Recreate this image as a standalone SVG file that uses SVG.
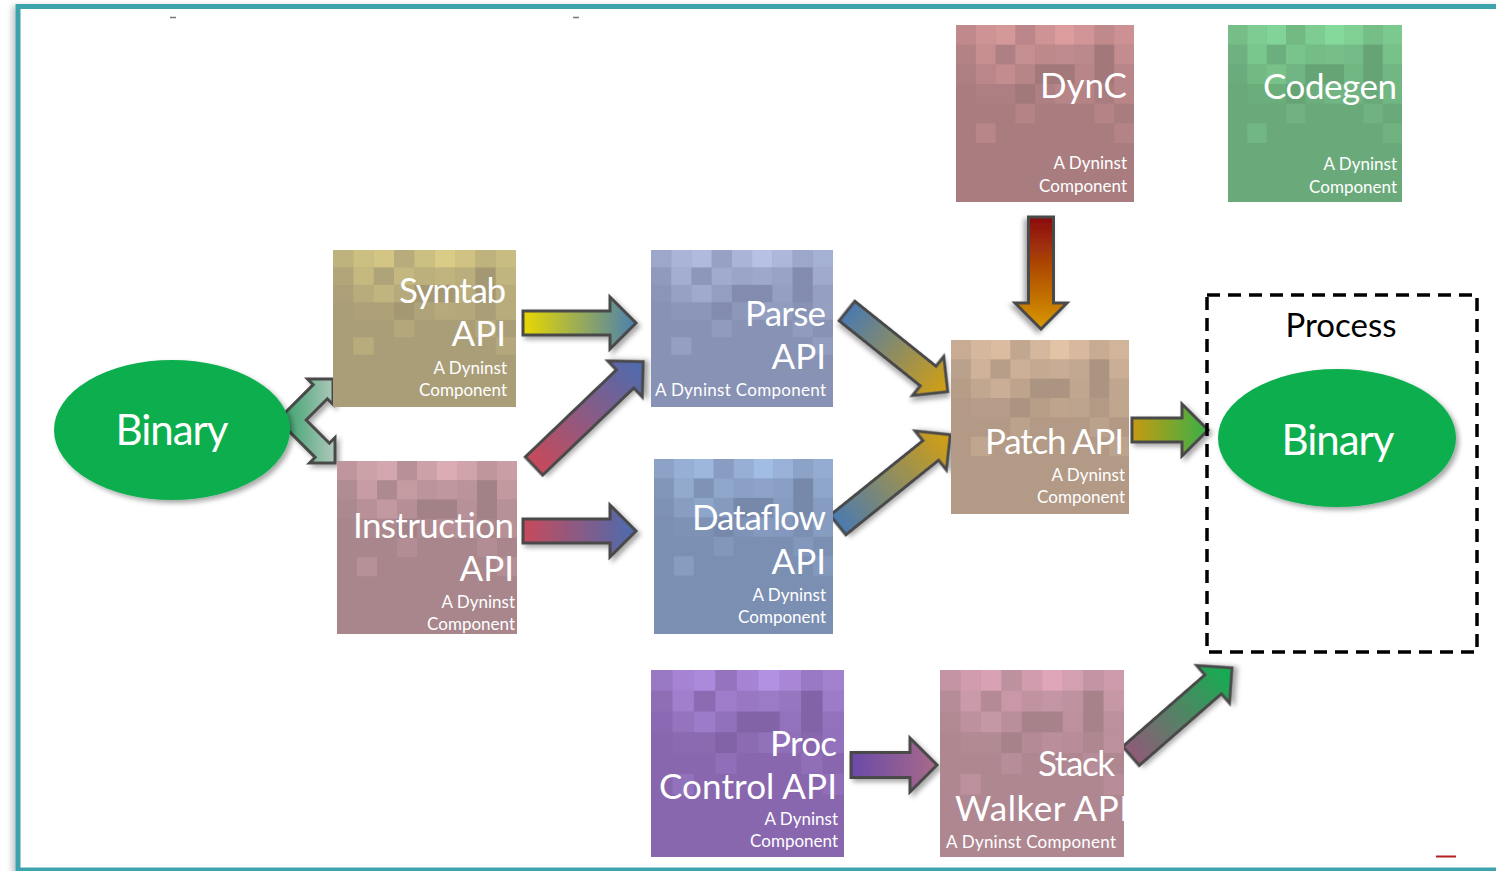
<svg xmlns="http://www.w3.org/2000/svg" xmlns:xlink="http://www.w3.org/1999/xlink" width="1496" height="871" viewBox="0 0 1496 871">
<style>
.t{fill:#fff;font-family:Lato,"Open Sans","DejaVu Sans",sans-serif;text-anchor:end}
.big{font-size:35px}
.sm{font-size:17px}
.arr{stroke:#4a4a4a;stroke-width:3;stroke-linejoin:miter;filter:url(#sh)}
#mosaic rect{fill:currentColor}
#mosaic rect.dk{fill:#000;fill-opacity:.035}
.bin{fill:#fff;font-family:Lato,"Open Sans","DejaVu Sans",sans-serif;font-size:42px;text-anchor:middle}
</style>
<defs>
<filter id="sh" x="-20%" y="-20%" width="150%" height="150%"><feDropShadow dx="3" dy="3" stdDeviation="2.5" flood-color="#000" flood-opacity="0.35"/></filter>
<filter id="fsh" x="-5%" y="-5%" width="110%" height="110%"><feDropShadow dx="-3" dy="2" stdDeviation="3" flood-color="#000" flood-opacity="0.25"/></filter>
<linearGradient id="g1"><stop offset="0" stop-color="#e8d800"/><stop offset="1" stop-color="#4a80b0"/></linearGradient>
<linearGradient id="g2"><stop offset="0" stop-color="#c84a5a"/><stop offset="1" stop-color="#4a6cb0"/></linearGradient>
<linearGradient id="g4"><stop offset="0" stop-color="#4a7ab0"/><stop offset="1" stop-color="#d4a010"/></linearGradient>
<linearGradient id="g6"><stop offset="0" stop-color="#8b0a0a"/><stop offset="1" stop-color="#d89a00"/></linearGradient>
<linearGradient id="g7"><stop offset="0" stop-color="#c89a10"/><stop offset="1" stop-color="#38b048"/></linearGradient>
<linearGradient id="g8"><stop offset="0" stop-color="#6a4aa8"/><stop offset="1" stop-color="#a86a88"/></linearGradient>
<linearGradient id="g9"><stop offset="0" stop-color="#905a78"/><stop offset="1" stop-color="#10b050"/></linearGradient>
<linearGradient id="gc"><stop offset="0" stop-color="#2e9e64"/><stop offset="1" stop-color="#b0c8bc"/></linearGradient>
<clipPath id="cstack"><rect x="940" y="670" width="184" height="187"/></clipPath>
<g id="mosaic">
<rect x="0" y="0" width="20" height="20" fill-opacity=".30"/><rect x="20" y="0" width="20" height="20" fill-opacity=".50"/><rect x="40" y="0" width="20" height="20" fill-opacity=".60"/><rect x="60" y="0" width="20" height="20" fill-opacity=".22"/><rect x="80" y="0" width="20" height="20" fill-opacity=".50"/><rect x="100" y="0" width="20" height="20" fill-opacity=".70"/><rect x="120" y="0" width="20" height="20" fill-opacity=".55"/><rect x="140" y="0" width="20" height="20" fill-opacity=".30"/><rect x="160" y="0" width="20" height="20" fill-opacity=".45"/>
<rect x="0" y="20" width="20" height="20" fill-opacity=".12"/><rect x="20" y="20" width="20" height="20" fill-opacity=".42"/><rect x="40" y="20" width="20" height="20" fill-opacity=".08"/><rect x="60" y="20" width="20" height="20" fill-opacity=".38"/><rect x="80" y="20" width="20" height="20" fill-opacity=".28"/><rect x="100" y="20" width="20" height="20" fill-opacity=".32"/><rect x="120" y="20" width="20" height="20" fill-opacity=".25"/><rect x="140" y="20" width="20" height="20" class="dk"/><rect x="160" y="20" width="20" height="20" fill-opacity=".35"/>
<rect x="0" y="40" width="20" height="20" fill-opacity=".05"/><rect x="20" y="40" width="20" height="20" fill-opacity=".22"/><rect x="40" y="40" width="20" height="20" fill-opacity=".35"/><rect x="60" y="40" width="20" height="20" fill-opacity=".18"/><rect x="80" y="40" width="20" height="20" class="dk"/><rect x="100" y="40" width="20" height="20" class="dk"/><rect x="120" y="40" width="20" height="20" fill-opacity=".20"/><rect x="140" y="40" width="20" height="20" class="dk"/><rect x="160" y="40" width="20" height="20" fill-opacity=".20"/>
<rect x="20" y="60" width="20" height="20" fill-opacity=".06"/><rect x="40" y="60" width="20" height="20" fill-opacity=".06"/><rect x="60" y="60" width="20" height="20" class="dk"/><rect x="80" y="60" width="20" height="20" fill-opacity=".08"/><rect x="100" y="60" width="20" height="20" fill-opacity=".18"/><rect x="120" y="60" width="20" height="20" fill-opacity=".15"/><rect x="160" y="60" width="20" height="20" fill-opacity=".20"/>
<rect x="60" y="80" width="20" height="20" fill-opacity=".14"/><rect x="140" y="80" width="20" height="20" fill-opacity=".14"/>
<rect x="20" y="100" width="20" height="20" fill-opacity=".20"/><rect x="160" y="100" width="20" height="20" fill-opacity=".15"/>
</g>
</defs>

<rect id="frame" x="18" y="6.5" width="1500" height="863.5" fill="#fff" stroke="#3ea3ad" stroke-width="5" filter="url(#fsh)"/>
<g id="marks" stroke-width="1.5">
<line x1="170" y1="17.5" x2="176" y2="17.5" stroke="#777"/>
<line x1="573" y1="17.5" x2="579" y2="17.5" stroke="#777"/>
<line x1="1436" y1="856.5" x2="1456" y2="856.5" stroke="#b02020" stroke-width="2"/>
</g>

<g id="connectors">
<polygon class="arr" fill="url(#gc)" points="277.86,420 313.2,384.66 307.54,379 333,379 333,404.46 327.34,398.8 306.14,420 329.34,443.2 335,437.54 335,463 309.54,463 315.2,457.34"/>
<polygon class="arr" fill="url(#g1)" transform="translate(523,323)" points="0,-12 87,-12 87,-26 113,0 87,26 87,12 0,12"/>
<polygon class="arr" fill="url(#g2)" transform="translate(534,466) rotate(-43.7)" points="0,-12.5 126,-12.5 126,-25 151,0 126,25 126,12.5 0,12.5"/>
<polygon class="arr" fill="url(#g2)" transform="translate(523,531)" points="0,-12 87,-12 87,-26 113,0 87,26 87,12 0,12"/>
<polygon class="arr" fill="url(#g4)" transform="translate(847,311) rotate(38.7)" points="0,-12.5 104,-12.5 104,-25 129,0 104,25 104,12.5 0,12.5"/>
<polygon class="arr" fill="url(#g4)" transform="translate(838,525) rotate(-38.8)" points="0,-12.5 119,-12.5 119,-25 144,0 119,25 119,12.5 0,12.5"/>
<polygon class="arr" fill="url(#g6)" transform="translate(1041,217) rotate(90)" points="0,-12.5 86,-12.5 86,-26 112,0 86,26 86,12.5 0,12.5"/>
<polygon class="arr" fill="url(#g7)" transform="translate(1132,430)" points="0,-12 50,-12 50,-26 76,0 50,26 50,12 0,12"/>
<polygon class="arr" fill="url(#g8)" transform="translate(851,765)" points="0,-12.5 59,-12.5 59,-27 86,0 59,27 59,12.5 0,12.5"/>
<polygon class="arr" fill="url(#g9)" transform="translate(1131,756) rotate(-41.1)" points="0,-12.5 109,-12.5 109,-25 134,0 109,25 109,12.5 0,12.5"/>
</g>

<g id="binary-left">
<ellipse cx="172" cy="430" rx="118" ry="70" fill="#0aae4e" filter="url(#sh)"/>
<text class="bin" x="172" y="445" textLength="113">Binary</text>
</g>

<g id="symtab">
<rect x="333" y="250" width="183" height="157" fill="#aa9e78"/>
<use xlink:href="#mosaic" href="#mosaic" transform="translate(333,250) scale(1.0167,0.8722)" color="#eee08c"/>
<text class="t big" x="506" y="303" textLength="107">Symtab</text>
<text class="t big" x="506" y="346">API</text>
<text class="t sm" x="507" y="374">A Dyninst</text>
<text class="t sm" x="507" y="396">Component</text>
</g>

<g id="instruction">
<rect x="337" y="461" width="180" height="173" fill="#a8868c"/>
<use xlink:href="#mosaic" href="#mosaic" transform="translate(337,461) scale(1,0.9611)" color="#f2bcc4"/>
<text class="t big" x="514" y="538" textLength="161">Instruction</text>
<text class="t big" x="514" y="581">API</text>
<text class="t sm" x="515" y="608">A Dyninst</text>
<text class="t sm" x="515" y="630">Component</text>
</g>

<g id="parse">
<rect x="651" y="250" width="182" height="157" fill="#8892b5"/>
<use xlink:href="#mosaic" href="#mosaic" transform="translate(651,250) scale(1.0111,0.8722)" color="#cad6f8"/>
<text class="t big" x="826" y="326" textLength="81">Parse</text>
<text class="t big" x="826" y="369">API</text>
<text class="t sm" x="826" y="396" textLength="171">A Dyninst Component</text>
</g>

<g id="dataflow">
<rect x="654" y="459" width="179" height="175" fill="#7b8fb2"/>
<use xlink:href="#mosaic" href="#mosaic" transform="translate(654,459) scale(0.9944,0.9722)" color="#b4d0f8"/>
<text class="t big" x="826" y="530" textLength="134">Dataflow</text>
<text class="t big" x="826" y="574">API</text>
<text class="t sm" x="826" y="601">A Dyninst</text>
<text class="t sm" x="826" y="623">Component</text>
</g>

<g id="dync">
<rect x="956" y="25" width="178" height="177" fill="#a97d80"/>
<use xlink:href="#mosaic" href="#mosaic" transform="translate(956,25) scale(0.9889,0.9833)" color="#f4aaaa"/>
<text class="t big" x="1127" y="98" textLength="87">DynC</text>
<text class="t sm" x="1127" y="169">A Dyninst</text>
<text class="t sm" x="1127" y="192">Component</text>
</g>

<g id="codegen">
<rect x="1228" y="25" width="174" height="177" fill="#6aa97a"/>
<use xlink:href="#mosaic" href="#mosaic" transform="translate(1228,25) scale(0.9667,0.9833)" color="#92f0aa"/>
<text class="t big" x="1397" y="99" textLength="134">Codegen</text>
<text class="t sm" x="1397" y="170">A Dyninst</text>
<text class="t sm" x="1397" y="193">Component</text>
</g>

<g id="patch">
<rect x="951" y="340" width="178" height="174" fill="#b29a86"/>
<use xlink:href="#mosaic" href="#mosaic" transform="translate(951,340) scale(0.9889,0.9667)" color="#f8d4b4"/>
<text class="t big" x="1124" y="454" textLength="139">Patch API</text>
<text class="t sm" x="1125" y="481">A Dyninst</text>
<text class="t sm" x="1125" y="503">Component</text>
</g>

<g id="proccontrol">
<rect x="651" y="670" width="193" height="187" fill="#8867ae"/>
<use xlink:href="#mosaic" href="#mosaic" transform="translate(651,670) scale(1.0722,1.0389)" color="#c4a2f8"/>
<text class="t big" x="837" y="756" textLength="67">Proc</text>
<text class="t big" x="837" y="799" textLength="178">Control API</text>
<text class="t sm" x="838" y="825">A Dyninst</text>
<text class="t sm" x="838" y="847">Component</text>
</g>

<g id="stackwalker">
<rect x="940" y="670" width="184" height="187" fill="#ae8791"/>
<use xlink:href="#mosaic" href="#mosaic" transform="translate(940,670) scale(1.0222,1.0389)" color="#f4b4cc"/>
<text class="t big" x="1115" y="776" textLength="77">Stack</text>
<text class="t big" x="1129" y="821" textLength="174" clip-path="url(#cstack)">Walker API</text>
<text class="t sm" x="1116" y="848" textLength="170">A Dyninst Component</text>
</g>

<g id="process">
<rect x="1207" y="295" width="270" height="357" fill="none" stroke="#000" stroke-width="3.5" stroke-dasharray="13 8"/>
<text x="1341" y="337" font-family="Lato,'Open Sans','DejaVu Sans',sans-serif" font-size="33" text-anchor="middle" fill="#000">Process</text>
</g>

<g id="binary-right">
<ellipse cx="1337" cy="438" rx="119" ry="69" fill="#0aae4e" filter="url(#sh)"/>
<text class="bin" x="1338" y="455" textLength="113">Binary</text>
</g>
</svg>
